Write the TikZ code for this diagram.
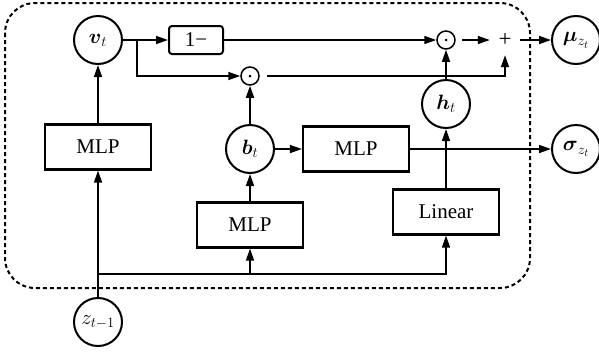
\documentclass[tikz,border=0pt]{standalone}
\usepackage{amsmath}
\usepackage{fontspec}
\setmainfont{Liberation Serif}
\usetikzlibrary{arrows.meta}
\begin{document}
\begin{tikzpicture}[x=1pt,y=-1pt,
  every node/.style={font=\fontsize{21}{24}\selectfont},
  circ/.style={circle, draw, line width=2pt, minimum size=48pt, inner sep=0pt, font=\fontsize{22}{24}\selectfont},
  blk/.style={rectangle, draw, line width=2.2pt, minimum width=106pt, minimum height=45pt, inner sep=0pt},
  op/.style={circle, draw, line width=1.5pt, minimum size=18pt, inner sep=0pt},
  conn/.style={line width=1.6pt, -{Triangle[length=12pt,width=8pt]}},
  plain/.style={line width=1.6pt}]
\useasboundingbox (0,0) rectangle (599,354);
% dashed container
\draw[line width=2pt, dash pattern=on 4pt off 3pt, rounded corners=30pt] (5,3) rectangle (530,288);
% nodes
\node[circ] (v) at (98,40) {$\boldsymbol{v}_t$};
\node[draw, rounded corners=3pt, line width=2pt, minimum width=54pt, minimum height=28pt, inner sep=0pt] (one) at (196,40) {1−};
\node[op] (o1) at (250,76) {};
\fill (o1.center) circle (1.5pt);
\node[op] (o2) at (446,40) {};
\fill (o2.center) circle (1.5pt);
\node[minimum size=30pt, inner sep=0pt, font=\fontsize{23}{24}\selectfont] (plus) at (505,40) {+};
\node[circ] (mu) at (576,40) {$\boldsymbol{\mu}_{z_t}$};
\node[circ] (h) at (446,104) {$\boldsymbol{h}_t$};
\node[circ] (s) at (576,149) {$\boldsymbol{\sigma}_{z_t}$};
\node[blk] (mlp1) at (98,147) {MLP};
\node[circ] (b) at (250,149) {$\boldsymbol{b}_t$};
\node[blk] (mlp2) at (356,149) {MLP};
\node[blk] (mlp3) at (250,225) {MLP};
\node[blk] (lin) at (446,212) {Linear};
\node[circ] (z) at (98,322) {$z_{t-1}$};
% connectors
\coordinate (br) at (137,40);
\coordinate (j) at (98,274);
\draw[conn] (v) -- (one);
\draw[conn] (br) |- (o1);
\draw[conn] (one) -- (o2);
\draw[conn, shorten <=6pt] (o2) -- (plus);
\draw[conn] (plus) -- (mu);
\draw[conn] ([xshift=7pt]o1.east) -| (plus.south);
\draw[conn] (h) -- (o2);
\draw[conn] (mlp1) -- (v);
\draw[conn] (z) -- (mlp1);
\draw[conn] (j) -| (lin.south);
\draw[conn] (mlp3.south |- j) -- (mlp3.south);
\draw[conn] (mlp3) -- (b);
\draw[conn] (b) -- (o1);
\draw[conn] (b) -- (mlp2);
\draw[conn] (mlp2) -- (s);
\draw[conn] (lin) -- (h);
\end{tikzpicture}
\end{document}
